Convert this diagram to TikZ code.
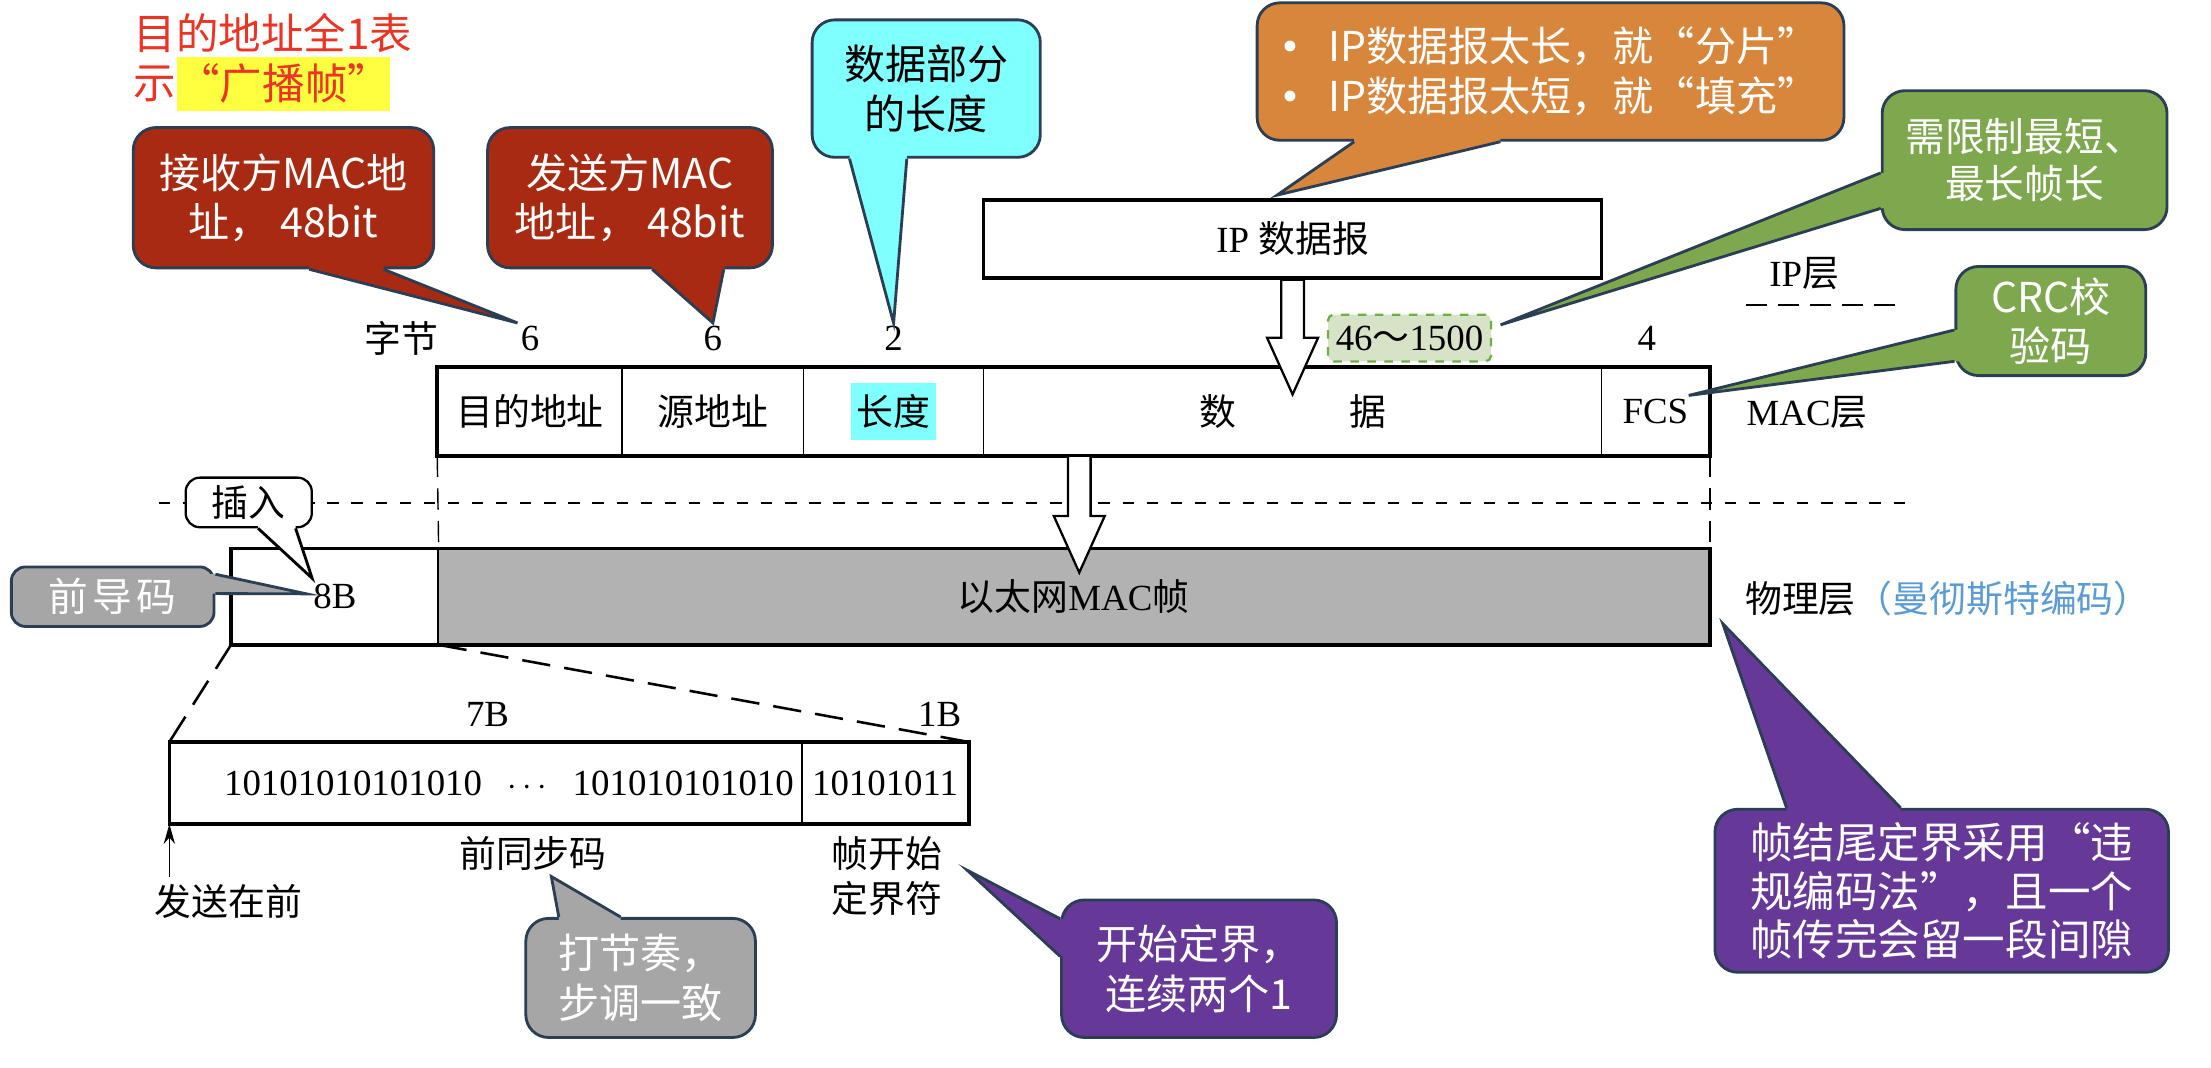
\documentclass[tikz,border=0pt]{standalone}
\usepackage{fontspec}
\setmainfont{Liberation Serif}
\newfontfamily\cjk{Noto Sans CJK SC}
\usetikzlibrary{arrows.meta, positioning, calc}

\definecolor{linecol}{RGB}{44,62,84}
\definecolor{brickred}{RGB}{168,42,18}
\definecolor{lencyan}{RGB}{128,255,255}
\definecolor{fragorange}{RGB}{216,134,59}
\definecolor{leafgreen}{RGB}{126,168,78}
\definecolor{slategrey}{RGB}{166,166,166}
\definecolor{violet}{RGB}{102,56,152}
\definecolor{rangefill}{RGB}{214,227,199}
\definecolor{rangegreen}{RGB}{112,173,71}
\definecolor{hlyellow}{RGB}{255,255,64}
\definecolor{redtext}{RGB}{236,52,36}
\definecolor{skyblue}{RGB}{91,155,213}
\definecolor{framegrey}{RGB}{178,178,178}

\newcommand{\zh}[1]{{\cjk #1}}
\newcommand{\labfont}{\fontsize{13}{16}\selectfont}
\newcommand{\callfont}{\cjk\fontsize{14.5}{17.5}\selectfont}
\newcommand{\bigdot}{\makebox[16pt][l]{\rmfamily\fontsize{16}{17.5}\selectfont\textbullet}}
% fill colour, line colour, base a, base b, tip, inward shift
\newcommand{\calltail}[6]{%
  \fill[#1] ($#3+(#6)$) -- ($#3$) -- (#5) -- ($#4$) -- ($#4+(#6)$) -- cycle;
  \draw[#2, line width=1pt] ($#3$) -- (#5) -- ($#4$);}
% from, to
\newcommand{\fatarrow}[2]{%
  \draw[line width=0.8pt, fill=white] ($(#1)+(-8,0)$) -- ($(#2)+(-8,-40)$)
    -- ($(#2)+(-18,-40)$) -- (#2) -- ($(#2)+(18,-40)$) -- ($(#2)+(8,-40)$)
    -- ($(#1)+(8,0)$) -- cycle;}

\begin{document}
\begin{tikzpicture}[x=0.5pt, y=-0.5pt, >=Stealth]
      % Node style
      \tikzset{
        bubble/.style={draw=linecol, line width=1pt, rounded corners=8pt, text=white,
          align=center, inner sep=0pt, font=\callfont},
        cell/.style={draw, line width=0.5pt, inner sep=0pt, font=\labfont},
        boxline/.style={draw, line width=1.3pt},
        lab/.style={inner sep=1pt, font=\labfont},
        redtxt/.style={inner sep=0pt, text=redtext, font=\cjk\fontsize{15}{18}\selectfont},
        rangebox/.style={draw=rangegreen, dashed, fill=rangefill, line width=0.8pt,
          rounded corners=2pt, inner sep=0pt, minimum width=57.5pt, minimum height=16.5pt,
          font=\labfont},
        guide/.style={line width=0.5pt, dash pattern=on 7.5pt off 4pt},
        layerdash/.style={line width=0.7pt, dash pattern=on 4pt off 4.5pt},
        zoomdash/.style={line width=0.9pt, dash pattern=on 10pt off 5pt},
      }
      \useasboundingbox (0,0) rectangle (1560,753.5);
      % Broadcast note
      \node[redtxt, anchor=west] (bcasta) at (94,23.5) {目的地址全1表};
      \node[redtxt, anchor=west] (bcastb) at (94,59) {示};
      \node[redtxt, fill=hlyellow, minimum width=75pt, minimum height=19pt, right=0pt of bcastb] (bcasthl) {“广播帧”};
      % IP layer
      \node[cell, line width=1.3pt, minimum width=218pt, minimum height=27.5pt] (ipdg) at (912,168.5) {IP \zh{数据报}};
      \node[lab] (iplayer) at (1273,193) {IP\zh{层}};
      \draw[line width=0.8pt, dash pattern=on 7.5pt off 3.75pt] (1232,215) -- (1342,215);
      % MAC frame
      \coordinate (toprow) at (0,239);
      \node[cell, minimum width=65pt, minimum height=30.75pt] (dst) at (374,290.25) {\zh{目的地址}};
      \node[cell, minimum width=64pt, minimum height=30.75pt] (src) at (503,290.25) {\zh{源地址}};
      \node[cell, minimum width=63.5pt, minimum height=30.75pt] (lenf) at (630.5,290.25) {};
      \node[fill=lencyan, inner xsep=2pt, inner ysep=4pt, font=\labfont] (lentxt) at (lenf) {\zh{长度}};
      \node[cell, minimum width=218pt, minimum height=30.75pt] (data) at (912,290.25) {\zh{数\hspace{40pt}据}};
      \node[cell, minimum width=38pt, minimum height=30.75pt] (fcs) at (1168,290.25) {FCS};
      \draw[boxline] (dst.north west) rectangle (fcs.south east);
      \node[lab] (bytes) at (283,239) {\zh{字节}};
      \node[lab] (b1) at (dst |- toprow) {6};
      \node[lab] (b2) at (src |- toprow) {6};
      \node[lab] (b3) at (lenf |- toprow) {2};
      \node[lab] (b4) at ($(fcs |- toprow)+(-6,0)$) {4};
      \node[rangebox] (range) at (994.5,238.5) {46\zh{～}1500};
      \node[lab] (maclayer) at (1275,291) {MAC\zh{层}};
      % Layer boundary
      \draw[layerdash] (112,354.6) -- (1349,354.6);
      % Physical layer
      \node[cell, minimum width=72.75pt, minimum height=33.5pt] (prea) at (236.25,421) {8B};
      \node[cell, fill=framegrey, minimum width=448.5pt, minimum height=33.5pt] (ethf) at (757.5,421) {\zh{以太网}MAC\zh{帧}};
      \draw[boxline] (prea.north west) rectangle (ethf.south east);
      \draw[guide] (dst.south west) -- (prea.north east);
      \draw[guide] (fcs.south east) -- (ethf.north east);
      \node[lab, anchor=west] (phylayer) at (1229,422) {\zh{物理层}{\cjk\color{skyblue}（曼彻斯特编码）}};
      % Preamble detail
      \node[cell, minimum width=223pt, minimum height=28.5pt] (synca) at (343,552.5) {};
      \node[lab, anchor=east] (bitsa) at ($(synca.east)+(-4,0)$) {10101010101010\hspace{9pt}$\cdots$\hspace{9pt}101010101010};
      \node[cell, minimum width=58.5pt, minimum height=28.5pt] (syncb) at (624.5,552.5) {10101011};
      \draw[boxline] (synca.north west) rectangle (syncb.south east);
      \draw[zoomdash] (prea.south west) -- (synca.north west);
      \draw[zoomdash] (prea.south east) -- (syncb.north east);
      \node[lab] (len7) at (344,504) {7B};
      \node[lab] (len1) at (663,504) {1B};
      \node[lab] (syncname) at (376,602) {\zh{前同步码}};
      \node[lab, align=center] (sfd) at (626,618) {\zh{帧开始}\\\zh{定界符}};
      \node[lab] (sendfirst) at (161,636) {\zh{发送在前}};
      \draw[-{Stealth[length=7pt,width=4pt]}, line width=0.6pt] ($(synca.south west)+(0,37)$) -- (synca.south west);
      % Arrows
      \coordinate (ipin) at ($(ipdg.south)+(0,81)$);
      \fatarrow{ipdg.south}{ipin}
      \coordinate (macout) at ($(data.south west)+(68,0)$);
      \coordinate (macin) at ($(macout)+(0,82.5)$);
      \fatarrow{macout}{macin}
      % Callouts
      \node[bubble, fill=brickred, minimum width=106pt, minimum height=49.5pt] (rcv) at (200,139.5) {接收方MAC地\\址， 48bit};
      \node[bubble, fill=brickred, minimum width=100.5pt, minimum height=49.5pt] (snd) at (444.5,139.5) {发送方MAC\\地址， 48bit};
      \node[bubble, fill=lencyan, text=black, minimum width=80.5pt, minimum height=48.5pt] (lennote) at (653.5,62.5) {数据部分\\的长度};
      \node[bubble, fill=fragorange, align=left, minimum width=207pt, minimum height=48.5pt] (frag) at (1094,50.5) {\bigdot IP数据报太长，就“分片”\\\bigdot IP数据报太短，就“填充”};
      \node[bubble, fill=leafgreen, font=\cjk\fontsize{14}{16.5}\selectfont, minimum width=100.5pt, minimum height=49pt] (limit) at (1428.5,113) {需限制最短、\\最长帧长};
      \node[bubble, fill=leafgreen, minimum width=67pt, minimum height=38.5pt] (crc) at (1447,226.5) {CRC校\\验码};
      \node[bubble, draw=black, line width=0.8pt, rounded corners=5pt, fill=white, text=black, font=\cjk\fontsize{13}{16}\selectfont, minimum width=44.5pt, minimum height=17.5pt] (insert) at (175.5,354.5) {插入};
      \node[bubble, fill=slategrey, rounded corners=5pt, font=\cjk\fontsize{14}{17}\selectfont, minimum width=71.5pt, minimum height=21pt] (pre) at (79.5,421) {前\hspace{1.5pt}导\hspace{1.5pt}码};
      \node[bubble, fill=violet, align=left, font=\cjk\fontsize{15}{17}\selectfont, minimum width=160pt, minimum height=57.5pt] (endd) at (1370,628.5) {帧结尾定界采用“违\\规编码法”，且一个\\帧传完会留一段间隙};
      \node[bubble, fill=slategrey, align=left, minimum width=81pt, minimum height=42pt] (beat) at (452,690) {打节奏，\\步调一致};
      \node[bubble, fill=violet, minimum width=97pt, minimum height=48.5pt] (startd) at (846,683.5) {开始定界，\\连续两个1};
      % Callout pointers
      \calltail{brickred}{linecol}{(rcv.south west)!.585!(rcv.south east)}{(rcv.south west)!.83!(rcv.south east)}{b1.north west}{0,-4}
      \calltail{brickred}{linecol}{(snd.south west)!.577!(snd.south east)}{(snd.south west)!.826!(snd.south east)}{b2.north}{0,-4}
      \calltail{lencyan}{linecol}{(lennote.south west)!.168!(lennote.south east)}{(lennote.south west)!.416!(lennote.south east)}{b3.north}{0,-4}
      \calltail{fragorange}{linecol}{(frag.south west)!.167!(frag.south east)}{(frag.south west)!.415!(frag.south east)}{$(ipdg.north)+(-11,-2)$}{0,-4}
      \calltail{leafgreen}{linecol}{(limit.north west)!.59!(limit.south west)}{(limit.north west)!.84!(limit.south west)}{$(range.north east)+(6,8)$}{4,0}
      \calltail{leafgreen}{linecol}{(crc.north west)!.58!(crc.south west)}{(crc.north west)!.86!(crc.south west)}{$(fcs.north east)+(-15,20)$}{4,0}
      \calltail{white}{black}{(insert.south west)!.573!(insert.south east)}{(insert.south west)!.865!(insert.south east)}{$(prea.center)+(-16,-13)$}{0,-4}
      \calltail{slategrey}{linecol}{(pre.north east)!.14!(pre.south east)}{(pre.north east)!.45!(pre.south east)}{$(prea.center)+(-20,-2)$}{-4,0}
      \calltail{violet}{linecol}{(endd.north west)!.16!(endd.north east)}{(endd.north west)!.41!(endd.north east)}{$(ethf.south east)+(9,-15)$}{0,4}
      \calltail{slategrey}{linecol}{(beat.north west)!.148!(beat.north east)}{(beat.north west)!.414!(beat.north east)}{$(syncname.south)+(13,2)$}{0,4}
      \calltail{violet}{linecol}{(startd.north west)!.144!(startd.south west)}{(startd.north west)!.412!(startd.south west)}{$(sfd.east)+(15,-4)$}{4,0}
    \end{tikzpicture}
\end{document}
